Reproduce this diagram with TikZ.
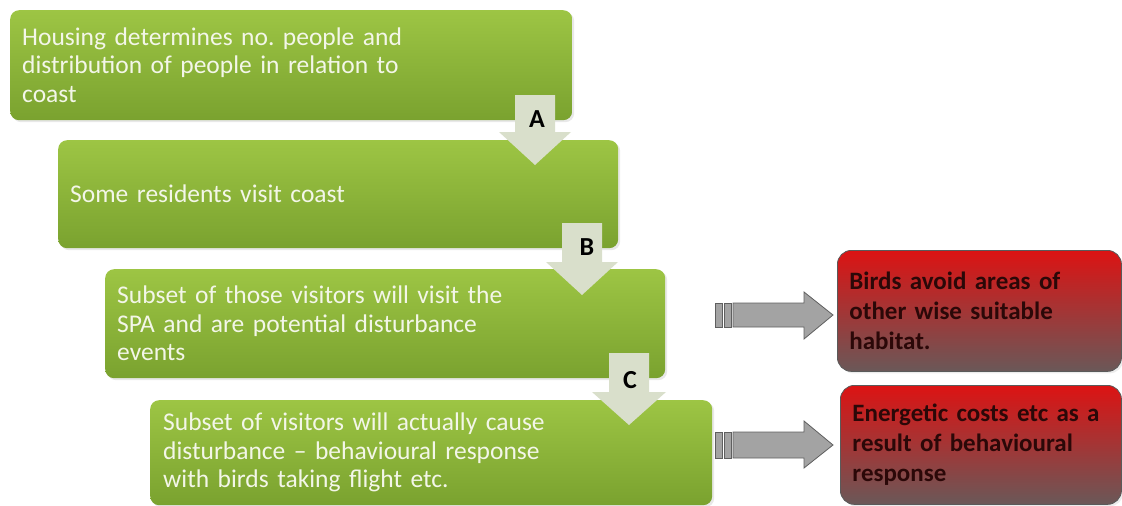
\documentclass[tikz,border=0pt]{standalone}
\usepackage{fontspec}
\setmainfont{Carlito}
\usetikzlibrary{shadows}
\definecolor{grtop}{HTML}{9DC544}
\definecolor{grbot}{HTML}{7AA22F}
\definecolor{grtext}{HTML}{F3F6E8}
\definecolor{redtop}{HTML}{DC1313}
\definecolor{redbot}{HTML}{6A5858}
\definecolor{redline}{HTML}{5A5A5A}
\definecolor{redtext}{HTML}{2B0808}
\definecolor{downfill}{HTML}{D9DFCB}
\definecolor{grayfill}{HTML}{A3A3A3}
\definecolor{grayline}{HTML}{5F5F5F}
\frenchspacing
\begin{document}
\begin{tikzpicture}[x=1pt,y=-1pt,
  greenbox/.style={draw=none, rounded corners=9pt, top color=grtop, bottom color=grbot,
    text=grtext, align=left, anchor=north west, inner xsep=12pt, inner ysep=0pt,
    font=\fontsize{25.5}{28.5}\selectfont,
    drop shadow={opacity=0.18, shadow xshift=2pt, shadow yshift=-2pt}},
  redbox/.style={draw=redline, line width=0.8pt, rounded corners=14pt, top color=redtop, bottom color=redbot,
    text=redtext, align=left, anchor=north west, inner xsep=12pt, inner ysep=0pt,
    font=\fontsize{25}{30}\selectfont\bfseries,
    drop shadow={opacity=0.15, shadow xshift=2pt, shadow yshift=-2pt}},
  downarrow/.style={fill=downfill, draw=none},
  grayarrow/.style={fill=grayfill, draw=grayline, line width=0.8pt},
  steplabel/.style={font=\fontsize{26}{26}\selectfont\bfseries, text=black, inner sep=0pt}]
\useasboundingbox (0,0) rectangle (1122,506);

\node[greenbox, minimum width=562pt, minimum height=110pt, text width=538pt] (b1) at (10,10)
  {Housing determines no. people and\\distribution of people in relation to\\coast};
\node[greenbox, minimum width=560pt, minimum height=108pt, text width=536pt] (b2) at (58,140)
  {Some residents visit coast};
\node[greenbox, minimum width=560pt, minimum height=109pt, text width=536pt] (b3) at (105,269)
  {Subset of those visitors will visit the\\SPA and are potential disturbance\\events};
\node[greenbox, minimum width=562pt, minimum height=105pt, text width=536pt] (b4) at (150,400)
  {Subset of visitors will actually cause\\disturbance -- behavioural response\\with birds taking flight etc.};

\node[redbox, minimum width=284pt, minimum height=121pt, text width=260pt] (r1) at (837,250)
  {Birds avoid areas of\\other wise suitable\\habitat.};
\node[redbox, minimum width=281pt, minimum height=119pt, text width=257pt] (r2) at (840,385)
  {Energetic costs etc as a\\result of behavioural\\response};

% down arrows
\fill[downarrow] (515,95) -- (555,95) -- (555,132) -- (571,132) -- (535,165) -- (499,132) -- (515,132) -- cycle;
\node[steplabel] (la) at (537,119) {A};
\fill[downarrow] (562,223) -- (602,223) -- (602,262) -- (618,262) -- (582,295) -- (546,262) -- (562,262) -- cycle;
\node[steplabel] (lb) at (587,247) {B};
\fill[downarrow] (609,353) -- (649,353) -- (649,392) -- (666,392) -- (629,425) -- (592,392) -- (609,392) -- cycle;
\node[steplabel] (lc) at (630,380) {C};

% gray arrows
\draw[grayarrow] (715,303) rectangle (722,327);
\draw[grayarrow] (724,303) rectangle (731,327);
\draw[grayarrow] (733,303) -- (804,303) -- (804,292) -- (833,315) -- (804,339) -- (804,327) -- (733,327) -- cycle;
\draw[grayarrow] (715,432) rectangle (722,458);
\draw[grayarrow] (724,432) rectangle (731,458);
\draw[grayarrow] (733,432) -- (804,432) -- (804,421) -- (833,445) -- (804,468) -- (804,458) -- (733,458) -- cycle;
\end{tikzpicture}
\end{document}
